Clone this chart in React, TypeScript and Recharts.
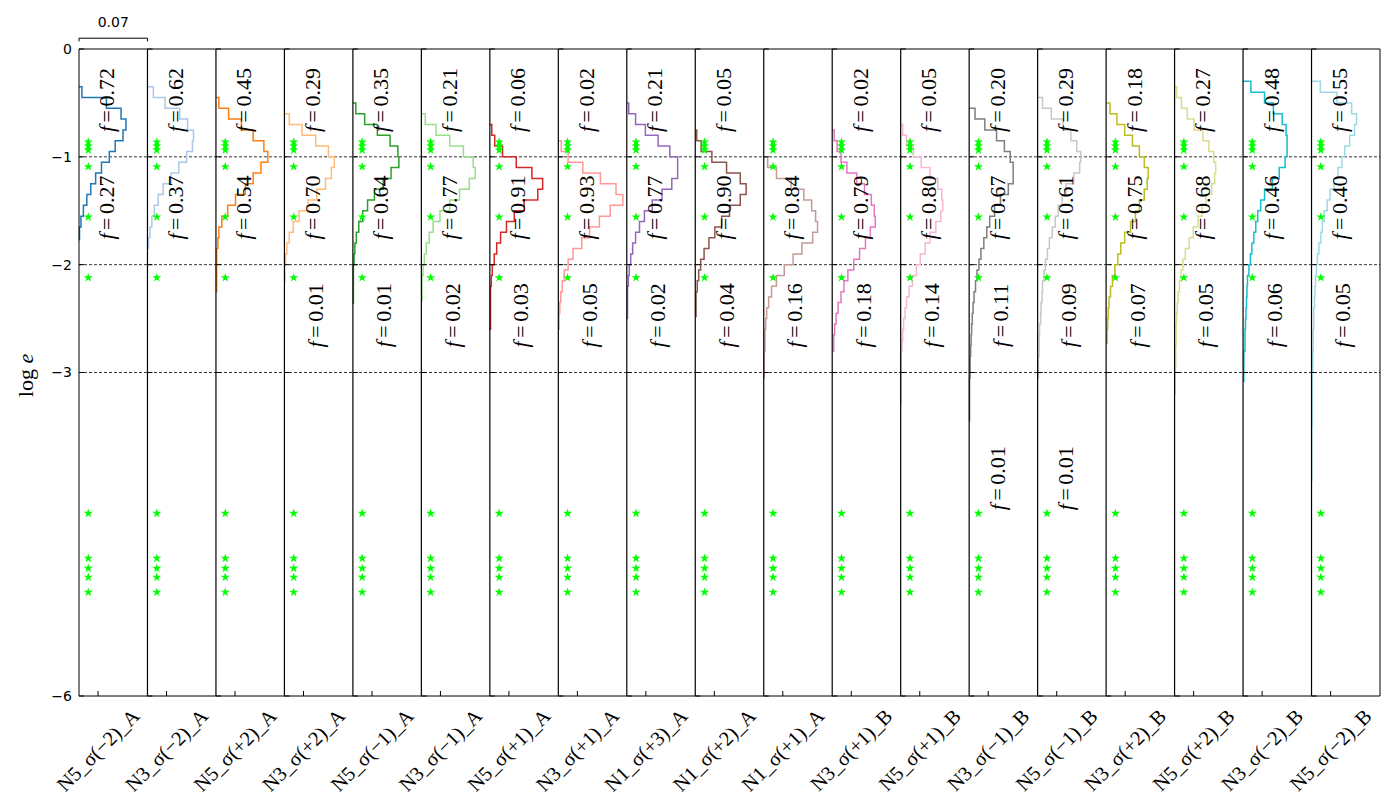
import React from "react";
import {
  ComposedChart,
  Line,
  ReferenceLine,
  Scatter,
  XAxis,
  YAxis,
  ZAxis,
} from "recharts";

// width of one panel in density units (the "0.07" bar)
const PANEL_W = 0.07;

const CATEGORIES = [
  "N5_σ(−2)_A", "N3_σ(−2)_A", "N5_σ(+2)_A", "N3_σ(+2)_A", "N5_σ(−1)_A",
  "N3_σ(−1)_A", "N5_σ(+1)_A", "N3_σ(+1)_A", "N1_σ(+3)_A", "N1_σ(+2)_A",
  "N1_σ(+1)_A", "N3_σ(+1)_B", "N5_σ(+1)_B", "N3_σ(−1)_B", "N5_σ(−1)_B",
  "N3_σ(+2)_B", "N5_σ(+2)_B", "N3_σ(−2)_B", "N5_σ(−2)_B",
];

const COLORS = [
  "#1f77b4", "#aec7e8", "#ff7f0e", "#ffbb78", "#2ca02c", "#98df8a", "#d62728",
  "#ff9896", "#9467bd", "#8c564b", "#c49c94", "#e377c2", "#f7b6d2", "#7f7f7f",
  "#c7c7c7", "#bcbd22", "#dbdb8d", "#17becf", "#9edae5",
];

// fractions printed in each panel (top / middle / low / extra group)
const F_TOP = ["0.72", "0.62", "0.45", "0.29", "0.35", "0.21", "0.06", "0.02", "0.21", "0.05", "", "0.02", "0.05", "0.20", "0.29", "0.18", "0.27", "0.48", "0.55"];
const F_MID = ["0.27", "0.37", "0.54", "0.70", "0.64", "0.77", "0.91", "0.93", "0.77", "0.90", "0.84", "0.79", "0.80", "0.67", "0.61", "0.75", "0.68", "0.46", "0.40"];
const F_LOW = ["", "", "", "0.01", "0.01", "0.02", "0.03", "0.05", "0.02", "0.04", "0.16", "0.18", "0.14", "0.11", "0.09", "0.07", "0.05", "0.06", "0.05"];
const F_EXTRA = ["", "", "", "", "", "", "", "", "", "", "", "", "", "0.01", "0.01", "", "", "", ""];

const LABEL_Y = { top: -0.473, mid: -1.47, low: -2.47, extra: -3.98 };

// log e of the reference markers (same in every panel)
const STAR_Y = [-0.862, -0.9, -0.937, -1.091, -1.558, -2.121, -4.306, -4.723, -4.816, -4.899, -5.038];

const Y_TICKS = [0, -1, -2, -3, -6];

// histograms: [bin top edge (log e), density]; last row = bottom edge
const H1 = [[-0.35, 0.003], [-0.45, 0.028], [-0.55, 0.043], [-0.65, 0.048], [-0.75, 0.045], [-0.85, 0.037], [-0.95, 0.031], [-1.05, 0.023], [-1.15, 0.017], [-1.25, 0.012], [-1.35, 0.008], [-1.45, 0.0045], [-1.55, 0.002], [-1.65, 0.0005], [-1.77, 0]];
const H2 = [[-0.35, 0.006], [-0.45, 0.018], [-0.55, 0.033], [-0.65, 0.041], [-0.75, 0.047], [-0.85, 0.046], [-0.95, 0.04], [-1.05, 0.032], [-1.15, 0.024], [-1.25, 0.016], [-1.35, 0.011], [-1.45, 0.007], [-1.55, 0.0045], [-1.65, 0.0025], [-1.75, 0.001], [-1.85, 0]];
const H3 = [[-0.45, 0.003], [-0.55, 0.013], [-0.65, 0.026], [-0.75, 0.038], [-0.85, 0.049], [-0.95, 0.053], [-1.05, 0.046], [-1.15, 0.038], [-1.25, 0.03], [-1.35, 0.02], [-1.45, 0.012], [-1.55, 0.006], [-1.65, 0.003], [-1.75, 0.002], [-1.85, 0.0007], [-2.25, 0]];
const H4 = [[-0.6, 0.005], [-0.7, 0.018], [-0.8, 0.032], [-0.9, 0.045], [-1.0, 0.051], [-1.1, 0.048], [-1.2, 0.042], [-1.3, 0.033], [-1.4, 0.024], [-1.5, 0.015], [-1.6, 0.009], [-1.7, 0.005], [-1.8, 0.0025], [-1.9, 0.0012], [-2.0, 0.0005], [-2.16, 0]];
const H5 = [[-0.5, 0.003], [-0.6, 0.012], [-0.7, 0.025], [-0.8, 0.038], [-0.9, 0.046], [-1.0, 0.047], [-1.1, 0.039], [-1.2, 0.031], [-1.3, 0.022], [-1.4, 0.015], [-1.5, 0.01], [-1.6, 0.006], [-1.7, 0.0035], [-1.8, 0.002], [-1.9, 0.0012], [-2.0, 0.0005], [-2.36, 0]];
const H6 = [[-0.6, 0.004], [-0.7, 0.015], [-0.8, 0.029], [-0.9, 0.043], [-1.0, 0.053], [-1.1, 0.055], [-1.2, 0.049], [-1.3, 0.039], [-1.4, 0.029], [-1.5, 0.019], [-1.6, 0.012], [-1.7, 0.008], [-1.8, 0.005], [-1.9, 0.003], [-2.0, 0.0018], [-2.1, 0.0007], [-2.33, 0]];
const H7 = [[-0.7, 0.002], [-0.8, 0.005], [-0.9, 0.013], [-1.0, 0.027], [-1.1, 0.043], [-1.2, 0.054], [-1.3, 0.049], [-1.4, 0.035], [-1.5, 0.025], [-1.6, 0.017], [-1.7, 0.011], [-1.8, 0.007], [-1.9, 0.0045], [-2.0, 0.0025], [-2.1, 0.0015], [-2.2, 0.0007], [-2.6, 0]];
const H8 = [[-0.85, 0.003], [-0.95, 0.01], [-1.05, 0.025], [-1.15, 0.043], [-1.25, 0.059], [-1.35, 0.066], [-1.45, 0.053], [-1.55, 0.042], [-1.65, 0.032], [-1.75, 0.024], [-1.85, 0.015], [-1.95, 0.01], [-2.05, 0.006], [-2.15, 0.004], [-2.25, 0.0025], [-2.35, 0.0015], [-2.45, 0.0007], [-2.6, 0]];
const H9 = [[-0.5, 0.002], [-0.6, 0.009], [-0.7, 0.019], [-0.8, 0.032], [-0.9, 0.044], [-1.0, 0.052], [-1.1, 0.052], [-1.2, 0.046], [-1.3, 0.036], [-1.4, 0.026], [-1.5, 0.018], [-1.6, 0.013], [-1.7, 0.009], [-1.8, 0.006], [-1.9, 0.004], [-2.0, 0.0025], [-2.1, 0.0016], [-2.2, 0.0007], [-2.5, 0]];
const H10 = [[-0.75, 0.0015], [-0.85, 0.006], [-0.95, 0.017], [-1.05, 0.032], [-1.15, 0.046], [-1.25, 0.052], [-1.35, 0.046], [-1.45, 0.035], [-1.55, 0.027], [-1.65, 0.02], [-1.75, 0.014], [-1.85, 0.009], [-1.95, 0.0055], [-2.05, 0.0035], [-2.15, 0.002], [-2.25, 0.0008], [-2.48, 0]];
const H11 = [[-1.0, 0.004], [-1.1, 0.013], [-1.2, 0.028], [-1.3, 0.041], [-1.4, 0.049], [-1.5, 0.053], [-1.6, 0.055], [-1.7, 0.05], [-1.8, 0.039], [-1.9, 0.03], [-2.0, 0.021], [-2.1, 0.013], [-2.2, 0.008], [-2.3, 0.005], [-2.4, 0.003], [-2.5, 0.002], [-2.6, 0.0012], [-2.8, 0.0005], [-3.05, 0]];
const H12 = [[-0.75, 0.002], [-0.85, 0.005], [-0.95, 0.009], [-1.05, 0.015], [-1.15, 0.025], [-1.25, 0.033], [-1.35, 0.04], [-1.45, 0.043], [-1.55, 0.044], [-1.65, 0.039], [-1.75, 0.034], [-1.85, 0.028], [-1.95, 0.022], [-2.05, 0.016], [-2.15, 0.012], [-2.25, 0.009], [-2.35, 0.006], [-2.45, 0.004], [-2.55, 0.0025], [-2.65, 0.0015], [-2.8, 0]];
const H13 = [[-0.7, 0.002], [-0.8, 0.006], [-0.9, 0.013], [-1.0, 0.021], [-1.1, 0.03], [-1.2, 0.038], [-1.3, 0.042], [-1.4, 0.043], [-1.5, 0.041], [-1.6, 0.036], [-1.7, 0.03], [-1.8, 0.025], [-1.9, 0.02], [-2.0, 0.016], [-2.1, 0.012], [-2.2, 0.0085], [-2.3, 0.006], [-2.4, 0.0045], [-2.5, 0.003], [-2.6, 0.002], [-2.7, 0.0014], [-2.8, 0.0004], [-3.3, 0]];
const H14 = [[-0.55, 0.006], [-0.65, 0.016], [-0.75, 0.028], [-0.85, 0.036], [-0.95, 0.042], [-1.05, 0.045], [-1.15, 0.045], [-1.25, 0.04], [-1.35, 0.032], [-1.45, 0.026], [-1.55, 0.021], [-1.65, 0.018], [-1.75, 0.015], [-1.85, 0.012], [-1.95, 0.01], [-2.05, 0.008], [-2.15, 0.0065], [-2.25, 0.005], [-2.35, 0.004], [-2.45, 0.0032], [-2.55, 0.0025], [-2.65, 0.002], [-2.75, 0.0015], [-2.85, 0.001], [-3.05, 0.0004], [-3.45, 0]];
const H15 = [[-0.45, 0.005], [-0.55, 0.014], [-0.65, 0.026], [-0.75, 0.034], [-0.85, 0.04], [-0.95, 0.044], [-1.05, 0.043], [-1.15, 0.037], [-1.25, 0.029], [-1.35, 0.025], [-1.45, 0.021], [-1.55, 0.018], [-1.65, 0.015], [-1.75, 0.012], [-1.85, 0.01], [-1.95, 0.008], [-2.05, 0.0065], [-2.15, 0.005], [-2.25, 0.0045], [-2.35, 0.0035], [-2.45, 0.003], [-2.55, 0.002], [-2.65, 0.0015], [-2.85, 0.0008], [-3.05, 0]];
const H16 = [[-0.5, 0.004], [-0.6, 0.011], [-0.7, 0.019], [-0.8, 0.027], [-0.9, 0.034], [-1.0, 0.039], [-1.1, 0.043], [-1.2, 0.042], [-1.3, 0.039], [-1.4, 0.034], [-1.5, 0.03], [-1.6, 0.025], [-1.7, 0.019], [-1.8, 0.015], [-1.9, 0.012], [-2.0, 0.009], [-2.1, 0.0065], [-2.2, 0.0045], [-2.3, 0.003], [-2.4, 0.0022], [-2.5, 0.0016], [-2.6, 0.001], [-2.73, 0]];
const H17 = [[-0.35, 0.002], [-0.45, 0.007], [-0.55, 0.013], [-0.65, 0.02], [-0.75, 0.029], [-0.85, 0.035], [-0.95, 0.04], [-1.05, 0.042], [-1.15, 0.041], [-1.25, 0.038], [-1.35, 0.032], [-1.45, 0.028], [-1.55, 0.024], [-1.65, 0.019], [-1.75, 0.015], [-1.85, 0.011], [-1.95, 0.0085], [-2.05, 0.0065], [-2.15, 0.005], [-2.25, 0.0037], [-2.35, 0.0027], [-2.45, 0.002], [-2.55, 0.0016], [-2.75, 0.0012], [-2.95, 0.0006], [-3.2, 0]];
const H18 = [[-0.3, 0.008], [-0.4, 0.022], [-0.5, 0.031], [-0.6, 0.04], [-0.7, 0.044], [-0.8, 0.045], [-0.9, 0.045], [-1.0, 0.043], [-1.1, 0.037], [-1.2, 0.03], [-1.3, 0.022], [-1.4, 0.018], [-1.5, 0.015], [-1.6, 0.013], [-1.7, 0.011], [-1.8, 0.009], [-1.9, 0.0075], [-2.0, 0.006], [-2.1, 0.0045], [-2.2, 0.004], [-2.3, 0.0035], [-2.4, 0.003], [-2.5, 0.0025], [-2.6, 0.002], [-2.8, 0.0008], [-3.08, 0]];
const H19 = [[-0.3, 0.009], [-0.4, 0.026], [-0.5, 0.041], [-0.6, 0.046], [-0.7, 0.044], [-0.8, 0.039], [-0.9, 0.034], [-1.0, 0.031], [-1.1, 0.027], [-1.2, 0.023], [-1.3, 0.019], [-1.4, 0.016], [-1.5, 0.013], [-1.6, 0.011], [-1.7, 0.0095], [-1.8, 0.0075], [-1.9, 0.006], [-2.0, 0.005], [-2.1, 0.004], [-2.2, 0.0035], [-2.3, 0.003], [-2.4, 0.0023], [-2.6, 0.0017], [-2.8, 0.0012], [-3.0, 0.0006], [-3.5, 0.0003], [-4.0, 0]];

const HISTS = [H1, H2, H3, H4, H5, H6, H7, H8, H9, H10, H11, H12, H13, H14, H15, H16, H17, H18, H19];

const SERIF = "'Liberation Serif', 'Times New Roman', serif";
const SANS = "'DejaVu Sans', sans-serif";

const TICK_OFF = 0.0195;
const X_MAX = PANEL_W * CATEGORIES.length;

// step outline of a sideways histogram, shifted into its panel
function stairs(panel: number, bins: number[][]) {
  const x0 = panel * PANEL_W;
  const pts = [{ x: x0, y: bins[0][0] }];
  for (let i = 0; i < bins.length - 1; i++) {
    pts.push({ x: x0 + bins[i][1], y: bins[i][0] });
    pts.push({ x: x0 + bins[i][1], y: bins[i + 1][0] });
  }
  pts.push({ x: x0, y: bins[bins.length - 1][0] });
  return pts;
}

const starData = CATEGORIES.flatMap((_, k) =>
  STAR_Y.map((y) => ({ x: k * PANEL_W + 0.0095, y }))
);

const panelTicks = CATEGORIES.flatMap((_, k) =>
  Y_TICKS.map((y) => ({ x: k * PANEL_W, y }))
);

const fLabels: { x: number; y: number; t: string }[] = [];
CATEGORIES.forEach((_, k) => {
  const x0 = k * PANEL_W;
  if (F_TOP[k]) fLabels.push({ x: x0 + 0.0281, y: LABEL_Y.top, t: F_TOP[k] });
  if (F_MID[k]) fLabels.push({ x: x0 + 0.0281, y: LABEL_Y.mid, t: F_MID[k] });
  if (F_LOW[k]) fLabels.push({ x: x0 + 0.0312, y: LABEL_Y.low, t: F_LOW[k] });
  if (F_EXTRA[k]) fLabels.push({ x: x0 + 0.028, y: LABEL_Y.extra, t: F_EXTRA[k] });
});

const xTicks = CATEGORIES.map((_, k) => k * PANEL_W + TICK_OFF);

function CatTick(props: any) {
  const { x, y, payload } = props;
  const k = Math.round((payload.value - TICK_OFF) / PANEL_W);
  const ty = y + 54;
  return (
    <g>
      <line x1={x} y1={y} x2={x} y2={y - 5} stroke="#000" strokeWidth={1} />
      <text
        x={x}
        y={ty}
        transform={`rotate(-45 ${x} ${ty})`}
        textAnchor="middle"
        dominantBaseline="central"
        fontFamily={SERIF}
        fontSize={20.5}
        fill="#000"
      >
        {CATEGORIES[k]}
      </text>
    </g>
  );
}

function FLabel(props: any) {
  const { cx, cy, payload } = props;
  return (
    <text
      x={cx}
      y={cy}
      transform={`rotate(-90 ${cx} ${cy})`}
      textAnchor="middle"
      dominantBaseline="central"
      fontFamily={SERIF}
      fontSize={22}
      fill="#000"
    >
      <tspan fontStyle="italic">f</tspan>
      <tspan dx={3.5}>=</tspan>
      <tspan dx={3.5}>{payload.t}</tspan>
    </text>
  );
}

function PanelTick(props: any) {
  const { cx, cy } = props;
  return <line x1={cx} y1={cy} x2={cx + 5} y2={cy} stroke="#000" strokeWidth={1} />;
}

function YLabel(props: any) {
  const { viewBox } = props;
  const cx = 25;
  const cy = viewBox.y + viewBox.height / 2 + 3;
  return (
    <text
      x={cx}
      y={cy}
      transform={`rotate(-90 ${cx} ${cy})`}
      textAnchor="middle"
      dominantBaseline="central"
      fontFamily={SERIF}
      fontSize={22}
      fill="#000"
    >
      log <tspan fontStyle="italic">e</tspan>
    </text>
  );
}

const fmtY = (v: number) => (v < 0 ? "\u2212" + Math.abs(v) : String(v));

export default function App() {
  return (
    <div style={{ position: "absolute", left: 0, top: 0, width: 1391, height: 805, background: "#fff" }}>
      <ComposedChart
        width={1391}
        height={805}
        margin={{ top: 49, right: 11, bottom: 9, left: 39 }}
      >
        <XAxis
          type="number"
          dataKey="x"
          domain={[0, X_MAX]}
          ticks={xTicks}
          interval={0}
          height={100}
          tickSize={0}
          tickMargin={0}
          tickLine={false}
          axisLine={{ stroke: "#000", strokeWidth: 1 }}
          tick={<CatTick />}
        />
        <YAxis
          type="number"
          dataKey="y"
          domain={[-6, 0]}
          ticks={Y_TICKS}
          interval={0}
          width={40}
          tickSize={5}
          tickMargin={2}
          tickLine={false}
          tickFormatter={fmtY}
          axisLine={{ stroke: "#000", strokeWidth: 1 }}
          tick={{ fill: "#000", fontSize: 14, fontFamily: SANS }}
          label={<YLabel />}
        />
        <ZAxis type="number" range={[26, 26]} />

        {[-1, -2, -3].map((v) => (
          <ReferenceLine key={`g${v}`} y={v} stroke="#000" strokeWidth={0.8} strokeDasharray="3 2" />
        ))}

        {HISTS.map((h, k) => (
          <Line
            key={CATEGORIES[k]}
            data={stairs(k, h)}
            dataKey="y"
            type="linear"
            stroke={COLORS[k]}
            strokeWidth={1.5}
            dot={false}
            activeDot={false}
            isAnimationActive={false}
          />
        ))}

        {CATEGORIES.slice(1).map((_, i) => (
          <ReferenceLine key={`d${i}`} x={(i + 1) * PANEL_W} stroke="#000" strokeWidth={1.2} />
        ))}
        <ReferenceLine y={0} stroke="#000" strokeWidth={1} />
        <ReferenceLine x={X_MAX} stroke="#000" strokeWidth={1} />

        <ReferenceLine
          segment={[{ x: 0, y: 0.1 }, { x: PANEL_W, y: 0.1 }]}
          ifOverflow="visible"
          stroke="#000"
          strokeWidth={1}
          label={{ value: "0.07", position: "top", offset: 11, fill: "#000", fontSize: 14, fontFamily: SANS }}
        />
        <ReferenceLine segment={[{ x: 0, y: 0.1 }, { x: 0, y: 0.07 }]} ifOverflow="visible" stroke="#000" strokeWidth={1} />
        <ReferenceLine segment={[{ x: PANEL_W, y: 0.1 }, { x: PANEL_W, y: 0.07 }]} ifOverflow="visible" stroke="#000" strokeWidth={1} />

        <Scatter data={panelTicks} shape={<PanelTick />} isAnimationActive={false} />
        <Scatter data={starData} shape="star" fill="#00ff00" isAnimationActive={false} />
        <Scatter data={fLabels} shape={<FLabel />} isAnimationActive={false} />
      </ComposedChart>
    </div>
  );
}
